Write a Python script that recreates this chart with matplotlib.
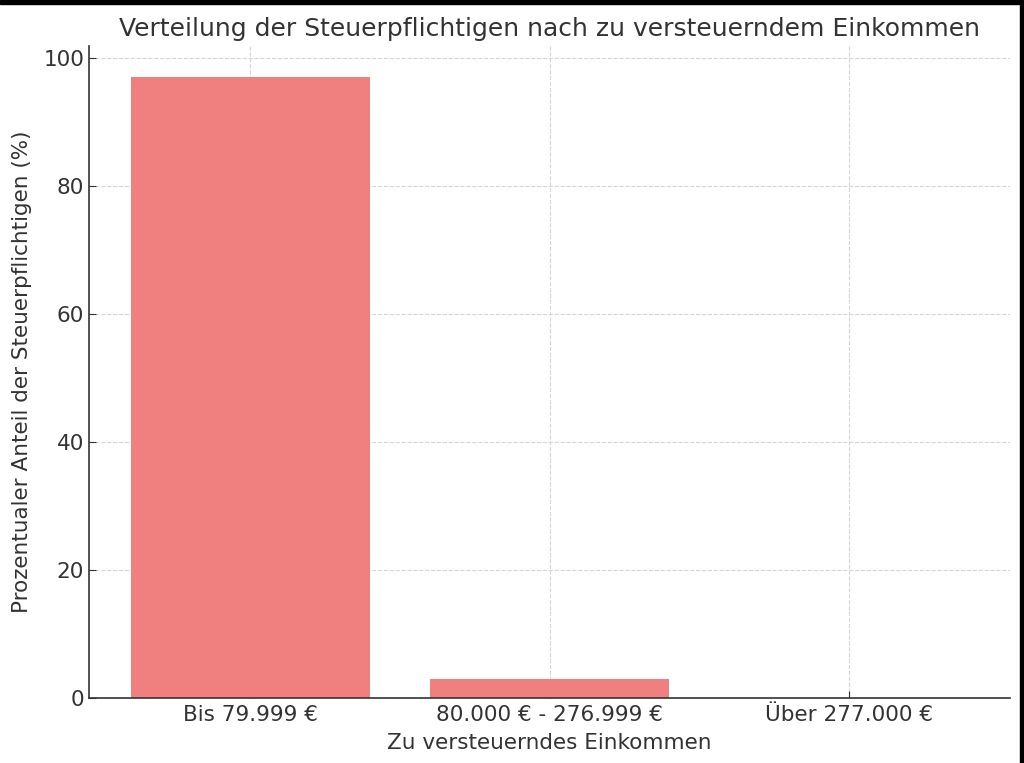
import matplotlib
matplotlib.use("Agg")
import matplotlib.pyplot as plt
from matplotlib.patches import Rectangle

categories = ["Bis 79.999 €", "80.000 € - 276.999 €", "Über 277.000 €"]
values = [97, 3, 0]

title = "Verteilung der Steuerpflichtigen nach zu versteuerndem Einkommen"
xlabel = "Zu versteuerndes Einkommen"
ylabel = "Prozentualer Anteil der Steuerpflichtigen (%)"

text_color = "#333333"
plt.rcParams['font.family'] = ['DejaVu Sans']

fig = plt.figure(figsize=(10.24, 7.63), dpi=100)
ax = fig.add_axes([89/1024, 1-698/763, (1010-89)/1024, (698-46)/763])

ax.bar(categories, values, color="lightcoral", width=0.8, zorder=2)
ax.grid(True, linestyle="--", color="#d5d5d5", linewidth=0.8, zorder=0)
ax.set_axisbelow(True)

ax.set_title(title, fontsize=18, color=text_color, pad=7)
ax.set_xlabel(xlabel, fontsize=15.5, color=text_color, labelpad=6)
ax.set_ylabel(ylabel, fontsize=15.5, color=text_color, labelpad=8)
ax.tick_params(axis='both', labelsize=15.5, colors=text_color, direction='in', length=5)
ax.tick_params(axis='x', pad=5)
for s in ["top", "right"]:
    ax.spines[s].set_visible(False)
for s in ["left", "bottom"]:
    ax.spines[s].set_color(text_color)
    ax.spines[s].set_linewidth(1.2)

# screenshot frame (black edges)
fig.patches.append(Rectangle((0, 1-4/763), 1, 4/763, transform=fig.transFigure, color="black", zorder=10))
fig.patches.append(Rectangle((1-4/1024, 0), 4/1024, 1, transform=fig.transFigure, color="black", zorder=10))

fig.savefig("out.png", dpi=100)
